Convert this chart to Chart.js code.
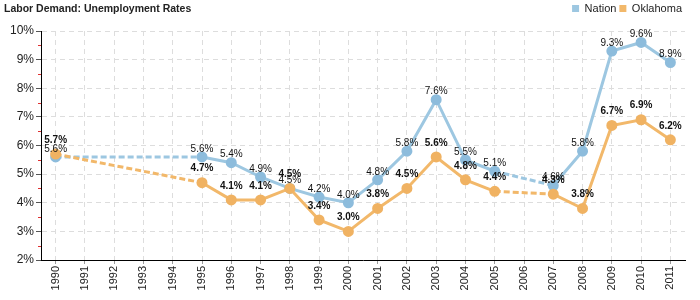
<!DOCTYPE html>
<html>
<head>
<meta charset="utf-8">
<script src="https://cdn.jsdelivr.net/npm/chart.js@4.4.1/dist/chart.umd.min.js"></script>
<style>
  html, body { margin: 0; padding: 0; background: #fff; }
  #wrap { width: 700px; height: 300px; position: relative; }
</style>
</head>
<body>
<div id="wrap"><canvas id="c"></canvas></div>
<script>
// ── Data ────────────────────────────────────────────────
const YEARS = ['1990','1991','1992','1993','1994','1995','1996','1997','1998','1999','2000',
               '2001','2002','2003','2004','2005','2006','2007','2008','2009','2010','2011'];
const NATION   = [5.6, null, null, null, null, 5.6, 5.4, 4.9, 4.5, 4.2, 4.0,
                  4.8, 5.8, 7.6, 5.5, 5.1, null, 4.6, 5.8, 9.3, 9.6, 8.9];
const OKLAHOMA = [5.7, null, null, null, null, 4.7, 4.1, 4.1, 4.5, 3.4, 3.0,
                  3.8, 4.5, 5.6, 4.8, 4.4, null, 4.3, 3.8, 6.7, 6.9, 6.2];
const Y_TICKS = [2, 3, 4, 5, 6, 7, 8, 9, 10];

const C_NATION = '#9dc7e1';
const C_OK = '#f2b86a';
const FONT = 'Arial, "Liberation Sans", sans-serif';

// dashed where the line jumps over missing years
const gapDash = ctx => (ctx.p0.skip || ctx.p1.skip ? [6, 3] : undefined);

// title in the top-left corner + extra room under the legend
const titlePlugin = {
  id: 'titleText',
  afterInit(chart) {
    const lg = chart.legend;
    if (!lg) return;
    const fit = lg.fit;
    lg.fit = function () { fit.call(this); this.height += 7; };
  },
  afterDraw(chart) {
    const ctx = chart.ctx;
    ctx.save();
    ctx.font = 'bold 10.5px ' + FONT;
    ctx.fillStyle = '#222';
    ctx.textBaseline = 'alphabetic';
    ctx.fillText('Labor Demand: Unemployment Rates', 4, 12);
    ctx.restore();
  },
};

// small red minor ticks at the half percents
const minorTicks = {
  id: 'minorTicks',
  afterDraw(chart) {
    const { ctx, scales } = chart;
    const y = scales.y;
    ctx.save();
    ctx.strokeStyle = '#e03030';
    ctx.lineWidth = 1;
    for (let v = 2.5; v < 10; v += 1) {
      const py = Math.round(y.getPixelForValue(v)) + 0.5;
      ctx.beginPath();
      ctx.moveTo(y.right - 3, py);
      ctx.lineTo(y.right, py);
      ctx.stroke();
    }
    ctx.restore();
  },
};

// value labels above each point
const valueLabels = {
  id: 'valueLabels',
  afterDatasetsDraw(chart) {
    const ctx = chart.ctx;
    ctx.save();
    ctx.textAlign = 'center';
    ctx.textBaseline = 'middle';
    chart.data.datasets.forEach((ds, i) => {
      const meta = chart.getDatasetMeta(i);
      ctx.font = (i === 1 ? 'bold ' : '') + '10px ' + FONT;
      ctx.fillStyle = '#111';
      meta.data.forEach((pt, j) => {
        const v = ds.data[j];
        if (v == null) return;
        const off = i === 1 ? 14 : 8;
        ctx.fillText(v.toFixed(1) + '%', pt.x, pt.y - off);
      });
    });
    ctx.restore();
  },
};

new Chart(document.getElementById('c'), {
  type: 'line',
  plugins: [titlePlugin, minorTicks, valueLabels],
  data: {
    labels: YEARS,
    datasets: [
      {
        label: 'Nation',
        data: NATION,
        borderColor: C_NATION,
        backgroundColor: C_NATION,
        pointBackgroundColor: '#8dbcdc',
        pointBorderColor: '#8dbcdc',
        borderWidth: 3,
        pointRadius: 4,
        spanGaps: true,
        segment: { borderDash: gapDash },
        order: 1,
      },
      {
        label: 'Oklahoma',
        data: OKLAHOMA,
        borderColor: C_OK,
        backgroundColor: C_OK,
        pointBackgroundColor: '#f0b262',
        pointBorderColor: '#f0b262',
        borderWidth: 3,
        pointRadius: 4,
        spanGaps: true,
        segment: { borderDash: gapDash },
        order: 0,
      },
    ],
  },
  options: {
    responsive: true,
    maintainAspectRatio: false,
    animation: false,
    layout: { padding: { left: 0, right: 15, top: 0, bottom: 0 } },
    plugins: {
      legend: {
        position: 'top',
        align: 'end',
        labels: {
          boxWidth: 7,
          boxHeight: 7,
          padding: 3,
          color: '#222',
          font: { family: FONT, size: 11 },
          sort: (a, b) => a.datasetIndex - b.datasetIndex,
          generateLabels(chart) {
            return Chart.defaults.plugins.legend.labels.generateLabels(chart)
              .map(it => Object.assign(it, { lineWidth: 0, strokeStyle: 'rgba(0,0,0,0)' }));
          },
        },
      },
      tooltip: { enabled: false },
    },
    scales: {
      x: {
        type: 'category',
        offset: true,
        grid: {
          offset: false,
          color: '#dddddd',
          tickColor: '#999',
          tickLength: 4,
          tickBorderDash: [],
        },
        border: { display: true, color: '#000', width: 1, dash: [5, 4] },
        ticks: {
          minRotation: 90,
          maxRotation: 90,
          autoSkip: false,
          color: '#222',
          padding: 2,
          font: { family: FONT, size: 11 },
        },
        afterFit(scale) { scale.height = 40; },
      },
      y: {
        type: 'linear',
        min: 2,
        max: 10,
        afterBuildTicks(scale) { scale.ticks = Y_TICKS.map(v => ({ value: v })); },
        grid: {
          color: '#dddddd',
          tickColor: '#555',
          tickLength: 5,
          tickBorderDash: [],
        },
        border: { display: true, color: '#000', width: 1, dash: [5, 4] },
        ticks: {
          color: '#222',
          padding: 2,
          font: { family: FONT, size: 12 },
          callback: v => v + '%',
        },
        afterFit(scale) { scale.width = 41; },
      },
    },
  },
});
</script>
</body>
</html>
